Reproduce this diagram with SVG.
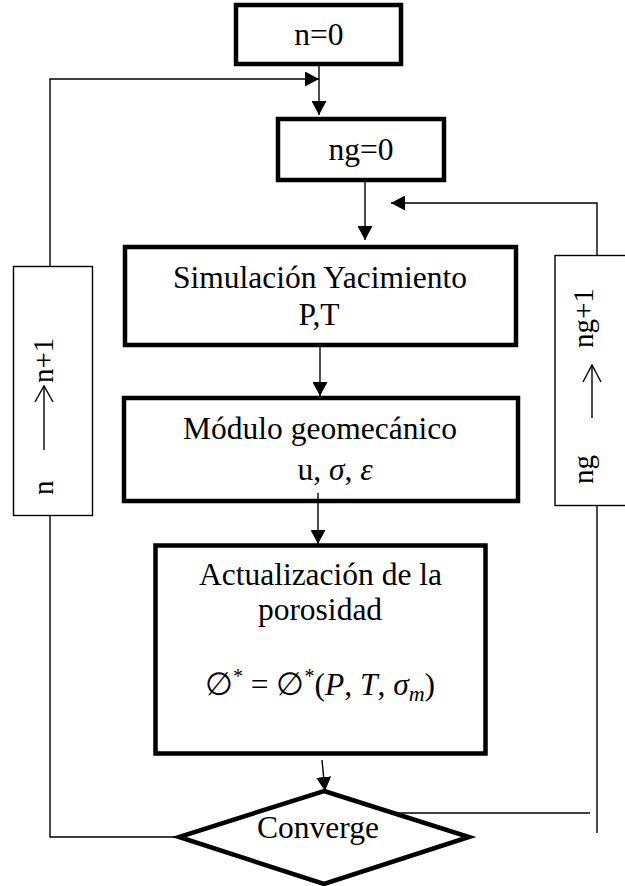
<svg xmlns="http://www.w3.org/2000/svg" width="625" height="886" viewBox="0 0 625 886">
<style>
  .thick { fill: #fff; stroke: #000; stroke-width: 4.5; stroke-linejoin: miter; }
  .thin { fill: #fff; stroke: #000; stroke-width: 1.4; }
  .conn { fill: none; stroke: #000; stroke-width: 1.4; }
  .t { font-family: "Liberation Serif", "DejaVu Serif", serif; font-size: 31.5px; fill: #000; text-anchor: middle; }
  .r { font-family: "Liberation Serif", "DejaVu Serif", serif; font-size: 29px; fill: #000; }
  .i { font-style: italic; }
</style>
<defs>
  <marker id="ah" markerUnits="userSpaceOnUse" markerWidth="15" markerHeight="15" refX="14" refY="7.5" orient="auto">
    <path d="M0,0 L14,7.5 L0,15 z" fill="#000"/>
  </marker>
</defs>

<g id="connectors">
  <line class="conn" x1="319" y1="66" x2="319" y2="115" marker-end="url(#ah)"/>
  <polyline class="conn" points="178,837 50,837 50,516"/>
  <polyline class="conn" points="50,266 50,79 319,79" marker-end="url(#ah)"/>
  <line class="conn" x1="365" y1="182" x2="365" y2="240" marker-end="url(#ah)"/>
  <line class="conn" x1="398" y1="813" x2="590" y2="813"/>
  <line class="conn" x1="597" y1="833" x2="597" y2="506"/>
  <polyline class="conn" points="597,255 597,203 391,203" marker-end="url(#ah)"/>
  <line class="conn" x1="320" y1="347" x2="320" y2="396" marker-end="url(#ah)"/>
  <line class="conn" x1="318" y1="493" x2="318" y2="544" marker-end="url(#ah)"/>
  <line class="conn" x1="322" y1="760" x2="325" y2="791" marker-end="url(#ah)"/>
</g>

<g id="n0">
  <rect class="thick" x="236" y="5" width="165" height="59"/>
  <text class="t" x="319" y="45">n=0</text>
</g>

<g id="ng0">
  <rect class="thick" x="278" y="119" width="166" height="61"/>
  <text class="t" x="361" y="160">ng=0</text>
</g>

<g id="simulacion">
  <rect class="thick" x="125" y="247" width="391" height="98"/>
  <text class="t" x="320" y="288">Simulación Yacimiento</text>
  <text class="t" x="319" y="325">P,T</text>
</g>

<g id="modulo">
  <rect class="thick" x="124" y="398" width="394" height="103"/>
  <text class="t" x="320" y="439">Módulo geomecánico</text>
  <text class="t" x="335" y="480">u, <tspan class="i">σ</tspan>, <tspan class="i">ε</tspan></text>
</g>
<line class="conn" x1="318" y1="493" x2="318" y2="503"/>

<g id="actualizacion">
  <rect class="thick" x="155.5" y="545.5" width="330" height="208"/>
  <text class="t" x="320.5" y="585">Actualización de la</text>
  <text class="t" x="320" y="620">porosidad</text>
  <text class="t" x="320" y="695">∅<tspan font-size="20" dy="-12">*</tspan><tspan dy="12"> = ∅</tspan><tspan font-size="20" dy="-12">*</tspan><tspan dy="12">(</tspan><tspan class="i">P</tspan>, <tspan class="i">T</tspan>, <tspan class="i">σ</tspan><tspan class="i" font-size="22" dy="6">m</tspan><tspan dy="-6">)</tspan></text>
</g>

<g id="converge">
  <polygon class="thick" points="324,791 469,837 324,884 179,837"/>
  <text class="t" x="318" y="838">Converge</text>
</g>

<g id="n-increment">
  <rect class="thin" x="13.5" y="266.5" width="79" height="249"/>
  <text class="r" transform="translate(53,495) rotate(-90)">n</text>
  <line class="conn" x1="44" y1="450" x2="44" y2="387"/>
  <polyline class="conn" points="35,402 44,386 53,402"/>
  <text class="r" transform="translate(53,383) rotate(-90)">n+1</text>
</g>

<g id="ng-increment">
  <rect class="thin" x="555" y="255.5" width="75" height="250"/>
  <text class="r" transform="translate(593,484) rotate(-90)">ng</text>
  <line class="conn" x1="592" y1="418" x2="592" y2="366"/>
  <polyline class="conn" points="583,382 592,365 601,382"/>
  <text class="r" transform="translate(593,348) rotate(-90)">ng+1</text>
</g>
</svg>
